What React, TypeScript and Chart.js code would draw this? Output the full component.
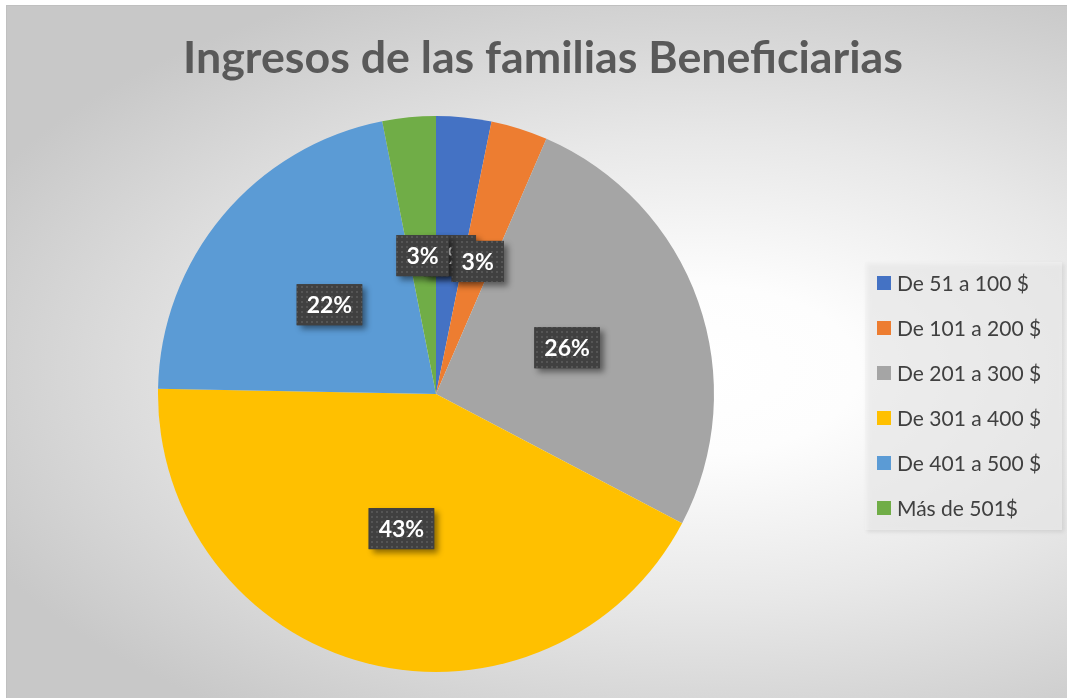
import React, { useEffect, useRef } from "react";
import { Chart, registerables } from "chart.js";

Chart.register(...registerables);

const title = "Ingresos de las familias Beneficiarias";
const categories = [
  "De 51 a 100 $",
  "De 101 a 200 $",
  "De 201 a 300 $",
  "De 301 a 400 $",
  "De 401 a 500 $",
  "Más de 501$",
];
const shares = [3.2, 3.3, 26.2, 42.6, 21.6, 3.1];
const colors = ["#4472C4", "#ED7D31", "#A5A5A5", "#FFC000", "#5B9BD5", "#70AD47"];

const W = 1067;
const H = 698;

function fitFont(ctx: CanvasRenderingContext2D, text: string, weight: string, family: string, targetW: number, base: number) {
  ctx.font = `${weight} ${base}px ${family}`;
  const w = ctx.measureText(text).width;
  return (base * targetW) / w;
}

const backgroundPlugin = {
  id: "bg",
  beforeDraw(chart: any) {
    const ctx = chart.ctx as CanvasRenderingContext2D;
    ctx.save();
    ctx.fillStyle = "#ffffff";
    ctx.fillRect(0, 0, W, H);
    ctx.beginPath();
    ctx.rect(6, 5, W - 6, H - 5);
    ctx.clip();
    ctx.translate(700, 370);
    ctx.scale(1.9, 1);
    const g = ctx.createRadialGradient(0, 0, 0, 0, 0, 420);
    g.addColorStop(0, "#ffffff");
    g.addColorStop(0.2, "#fdfdfd");
    g.addColorStop(0.55, "#e8e8e8");
    g.addColorStop(1, "#c8c8c8");
    ctx.fillStyle = g;
    ctx.fillRect(-1000, -1000, 2000, 2000);
    ctx.restore();
    ctx.save();
    ctx.strokeStyle = "#c0c0c0";
    ctx.lineWidth = 1;
    ctx.strokeRect(6.5, 5.5, W, H);
    ctx.restore();

    // title
    ctx.save();
    const size = fitFont(ctx, title, "bold", "Lato", 720, 40);
    ctx.font = `bold ${size}px Lato`;
    ctx.fillStyle = "#595959";
    ctx.textAlign = "center";
    ctx.textBaseline = "alphabetic";
    ctx.fillText(title, 543, 73);
    ctx.restore();

    // legend
    ctx.save();
    ctx.shadowColor = "rgba(0,0,0,0.15)";
    ctx.shadowBlur = 4;
    ctx.shadowOffsetX = 2;
    ctx.shadowOffsetY = 2;
    ctx.fillStyle = "rgba(242,242,242,0.6)";
    ctx.fillRect(865, 262, 197, 268);
    ctx.restore();
    ctx.save();
    ctx.font = "21px Lato";
    ctx.textBaseline = "middle";
    ctx.textAlign = "left";
    categories.forEach((c, i) => {
      const y = 283 + i * 45;
      ctx.fillStyle = colors[i];
      ctx.fillRect(877, y - 7, 14, 14);
      ctx.fillStyle = "#404040";
      ctx.fillText(c, 897, y + 1);
    });
    ctx.restore();
  },
};

let dotPattern: CanvasPattern | null = null;
function getPattern(ctx: CanvasRenderingContext2D) {
  if (dotPattern) return dotPattern;
  const c = document.createElement("canvas");
  c.width = 5;
  c.height = 5;
  const p = c.getContext("2d")!;
  p.fillStyle = "#404040";
  p.fillRect(0, 0, 5, 5);
  p.fillStyle = "#555555";
  p.fillRect(1, 1, 2, 2);
  dotPattern = ctx.createPattern(c, "repeat");
  return dotPattern;
}

const labelPlugin = {
  id: "pctLabels",
  afterDatasetsDraw(chart: any) {
    const ctx = chart.ctx as CanvasRenderingContext2D;
    const meta = chart.getDatasetMeta(0);
    const data = chart.data.datasets[0].data as number[];
    const total = data.reduce((a, b) => a + b, 0);
    meta.data.forEach((arc: any, i: number) => {
      const pt = arc.getCenterPoint();
      const txt = Math.round((data[i] / total) * 100) + "%";
      ctx.save();
      ctx.font = "bold 23px Lato";
      const tw = ctx.measureText(txt).width;
      const bw = tw + 20;
      const bh = 41;
      const x = pt.x - bw / 2;
      const y = pt.y - bh / 2;
      ctx.shadowColor = "rgba(0,0,0,0.45)";
      ctx.shadowBlur = 6;
      ctx.shadowOffsetX = 4;
      ctx.shadowOffsetY = 4;
      ctx.fillStyle = "#404040";
      ctx.fillRect(x, y, bw, bh);
      ctx.shadowColor = "transparent";
      ctx.fillStyle = getPattern(ctx) || "#404040";
      ctx.fillRect(x, y, bw, bh);
      ctx.fillStyle = "#ffffff";
      ctx.textAlign = "center";
      ctx.textBaseline = "middle";
      ctx.fillText(txt, pt.x, pt.y + 1);
      ctx.restore();
    });
  },
};

export default function App() {
  const ref = useRef<HTMLCanvasElement>(null);
  useEffect(() => {
    if (!ref.current) return;
    const chart = new Chart(ref.current, {
      type: "pie",
      data: {
        labels: categories,
        datasets: [
          {
            data: shares,
            backgroundColor: colors,
            borderWidth: 0,
          },
        ],
      },
      options: {
        responsive: false,
        animation: false,
        layout: { padding: { left: 158, top: 116, right: W - 714, bottom: H - 672 } },
        plugins: {
          legend: { display: false },
          title: { display: false },
          tooltip: { enabled: false },
        },
      },
      plugins: [backgroundPlugin, labelPlugin],
    });
    return () => chart.destroy();
  }, []);
  return (
    <div style={{ position: "fixed", left: 0, top: 0, width: W, height: H }}>
      <canvas ref={ref} width={W} height={H} style={{ display: "block", width: W, height: H }} />
    </div>
  );
}
